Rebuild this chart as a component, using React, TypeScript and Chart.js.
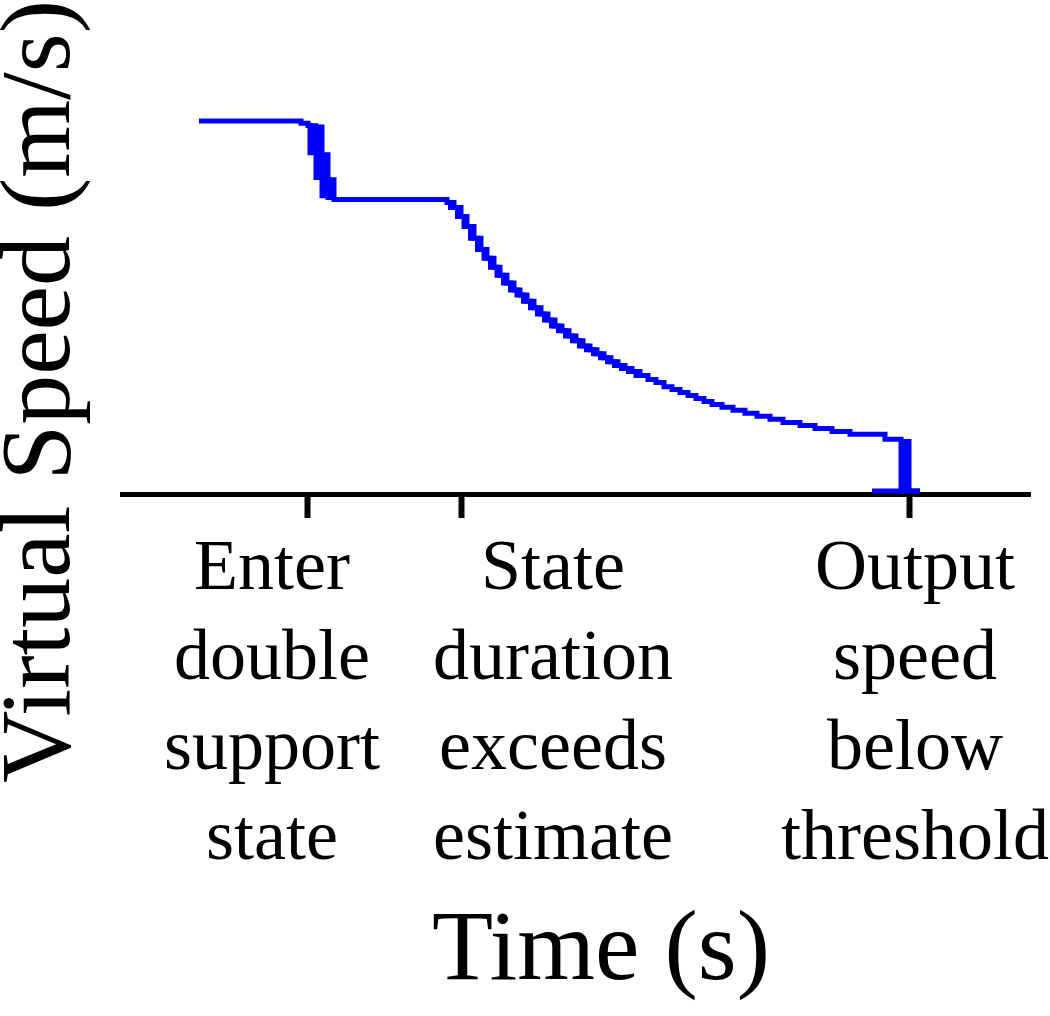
import React, { useEffect, useRef } from "react";
import { Chart, registerables } from "chart.js";

Chart.register(...registerables);

// Virtual speed estimate (m/s) over time (s); value holds from its time onward (step).
const TIME_S = [
  0.77, 1.79, 1.86, 1.88, 1.91, 1.94, 1.97, 2.0, 2.03, 2.06, 2.09, 2.12,
  3.25, 3.32, 3.39, 3.45, 3.52, 3.59, 3.65, 3.72, 3.78, 3.85, 3.92, 3.98,
  4.05, 4.12, 4.19, 4.26, 4.33, 4.4, 4.47, 4.54, 4.61, 4.68, 4.75, 4.82,
  4.89, 4.96, 5.03, 5.1, 5.18, 5.26, 5.34, 5.42, 5.5, 5.58, 5.66, 5.74,
  5.82, 5.9, 6.0, 6.11, 6.23, 6.35, 6.48, 6.61, 6.78, 6.93, 7.1, 7.28,
  7.63, 7.79, 7.83, 7.87, 7.98,
];
const SPEED = [
  1.0, 0.994, 0.988, 0.914, 0.987, 0.847, 0.984, 0.798, 0.909, 0.793, 0.841, 0.788,
  0.78, 0.766, 0.742, 0.715, 0.683, 0.653, 0.629, 0.605, 0.583, 0.562, 0.543, 0.53,
  0.513, 0.495, 0.478, 0.462, 0.446, 0.433, 0.419, 0.406, 0.392, 0.382, 0.371, 0.36,
  0.349, 0.339, 0.331, 0.323, 0.312, 0.301, 0.293, 0.282, 0.274, 0.266, 0.258, 0.25,
  0.242, 0.234, 0.226, 0.218, 0.21, 0.202, 0.194, 0.185, 0.177, 0.169, 0.161, 0.153,
  0.14, 0.0, 0.134, 0.0, 0.0,
];
// the steep, jittery part of the deceleration (indices into TIME_S / SPEED)
const STEEP_FROM = 12;
const STEEP_TO = 41;
// short zero-speed trace near the end
const ZERO_TIME_S = [7.5, 7.98];
const ZERO_SPEED = [0, 0];

// event markers on the time axis
const EVENT_TIMES = [1.85, 3.4, 7.87];
// where each event's description is centred
const LABEL_TIMES = [1.5, 4.31, 7.93];
const TICK_LABELS = [
  ["Enter", "double", "support", "state"],
  ["State", "duration", "exceeds", "estimate"],
  ["Output", "speed", "below", "threshold"],
];

const X_TITLE = "  Time (s)";
const Y_TITLE = "Virtual Speed (m/s)";

const FONT = "'Liberation Serif', 'Times New Roman', Times, serif";

export default function App() {
  const ref = useRef<HTMLCanvasElement | null>(null);

  useEffect(() => {
    if (!ref.current) return;
    const main = TIME_S.map((t, i) => ({ x: t, y: SPEED[i] }));
    const steep = main.slice(STEEP_FROM, STEEP_TO);
    const zero = ZERO_TIME_S.map((t, i) => ({ x: t, y: ZERO_SPEED[i] }));
    const xMin = 0;
    const xMax = 9.08;
    const axisPos = { y: -0.009 };
    const fixPad = (s: any) => {
      s.paddingLeft = 0;
      s.paddingRight = 20;
    };
    const lineStyle = {
      borderColor: "#0000ff",
      borderWidth: 5,
      pointRadius: 0,
      xAxisID: "x",
      yAxisID: "y",
    };

    const chart = new Chart(ref.current, {
      type: "line",
      data: {
        datasets: [
          { ...lineStyle, data: zero, stepped: true },
          { ...lineStyle, data: steep, stepped: "middle" },
          { ...lineStyle, data: main, stepped: true },
        ],
      },
      options: {
        animation: false,
        responsive: false,
        events: [],
        layout: { padding: { left: 0, right: 0, top: 0, bottom: 0 } },
        plugins: {
          legend: { display: false },
          tooltip: { enabled: false },
          title: { display: false },
        },
        scales: {
          y: {
            type: "linear",
            position: "left",
            min: -1.419,
            max: 1.327,
            ticks: { display: false },
            grid: { display: false, drawTicks: false },
            border: { display: false },
            title: {
              display: true,
              text: Y_TITLE,
              align: "end",
              color: "#000",
              font: { family: FONT, size: 100, lineHeight: 0.76 },
              padding: { top: 5, bottom: 41 },
            },
            afterFit: (s: any) => {
              s.paddingTop = 0;
              s.paddingBottom = 0;
            },
          },
          x: {
            type: "linear",
            position: axisPos as any,
            min: xMin,
            max: xMax,
            z: 1,
            afterBuildTicks: (s: any) => {
              s.ticks = EVENT_TIMES.map((v) => ({ value: v }));
            },
            ticks: { display: false, autoSkip: false, maxRotation: 0, minRotation: 0 },
            grid: {
              display: true,
              drawOnChartArea: false,
              drawTicks: true,
              tickLength: 21,
              tickWidth: 6,
              tickColor: "#000",
            },
            border: { display: true, width: 5, color: "#000" },
            afterFit: fixPad,
          },
          xl: {
            type: "linear",
            axis: "x",
            position: axisPos as any,
            min: xMin,
            max: xMax,
            afterBuildTicks: (s: any) => {
              s.ticks = LABEL_TIMES.map((v) => ({ value: v }));
            },
            ticks: {
              display: true,
              autoSkip: false,
              maxRotation: 0,
              minRotation: 0,
              padding: 31,
              color: "#000",
              font: { family: FONT, size: 72, lineHeight: 1.25 },
              callback: (_v: any, i: number) => TICK_LABELS[i],
            },
            grid: { display: false, drawTicks: false },
            border: { display: false },
            title: {
              display: true,
              text: X_TITLE,
              color: "#000",
              font: { family: FONT, size: 100, lineHeight: 1 },
              padding: { top: 0, bottom: 0 },
            },
            afterFit: fixPad,
          },
        },
      } as any,
    });
    return () => chart.destroy();
  }, []);

  return (
    <div style={{ position: "absolute", left: 0, top: 0, width: 1050, height: 1016, background: "#fff" }}>
      <canvas ref={ref} width={1050} height={1016} style={{ display: "block" }} />
    </div>
  );
}
